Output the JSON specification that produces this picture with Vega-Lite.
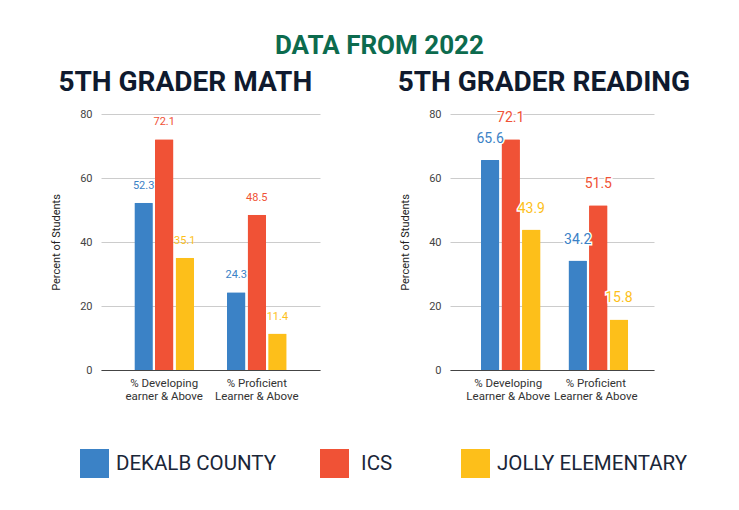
{
  "$schema": "https://vega.github.io/schema/vega-lite/v6.json",
  "background": "white",
  "padding": {"left": 50, "top": 33, "right": 5, "bottom": 5},
  "title": {"text": "DATA FROM 2022", "font": "Roboto", "fontSize": 26, "fontWeight": "bold", "color": "#0c6b4e", "anchor": "middle", "offset": 10, "dx": 9},
  "datasets": {
    "math": [
      {"measure": "% Developing|earner & Above", "school": "DEKALB COUNTY", "value": 52.3},
      {"measure": "% Developing|earner & Above", "school": "ICS", "value": 72.1},
      {"measure": "% Developing|earner & Above", "school": "JOLLY ELEMENTARY", "value": 35.1},
      {"measure": "% Proficient|Learner & Above", "school": "DEKALB COUNTY", "value": 24.3},
      {"measure": "% Proficient|Learner & Above", "school": "ICS", "value": 48.5},
      {"measure": "% Proficient|Learner & Above", "school": "JOLLY ELEMENTARY", "value": 11.4}
    ],
    "reading": [
      {"measure": "% Developing|Learner & Above", "school": "DEKALB COUNTY", "value": 65.6},
      {"measure": "% Developing|Learner & Above", "school": "ICS", "value": 72.1},
      {"measure": "% Developing|Learner & Above", "school": "JOLLY ELEMENTARY", "value": 43.9},
      {"measure": "% Proficient|Learner & Above", "school": "DEKALB COUNTY", "value": 34.2},
      {"measure": "% Proficient|Learner & Above", "school": "ICS", "value": 51.5},
      {"measure": "% Proficient|Learner & Above", "school": "JOLLY ELEMENTARY", "value": 15.8}
    ]
  },
  "spacing": 77,
  "hconcat": [
    {
      "data": {"name": "math"},
      "title": {"text": "5TH GRADER MATH"},
      "width": 219,
      "height": 256,
      "encoding": {
        "x": {"field": "measure", "type": "nominal", "sort": null, "scale": {"paddingInner": 0.355, "paddingOuter": 0.36}, "axis": {"title": null, "labelAngle": 0, "labelExpr": "split(datum.label, '|')"}},
        "xOffset": {"field": "school", "type": "nominal", "sort": null, "scale": {"paddingInner": 0.1}},
        "y": {"field": "value", "type": "quantitative", "scale": {"domain": [0, 80]}, "axis": {"title": "Percent of Students", "values": [0, 20, 40, 60, 80]}},
        "color": {"field": "school", "type": "nominal", "scale": {"domain": ["DEKALB COUNTY", "ICS", "JOLLY ELEMENTARY"], "range": ["#3b82c6", "#f05236", "#fdbf1a"]}, "legend": {"labelExpr": "datum.label == 'ICS' ? '\u200b ICS     \u200b' : datum.label"}}
      },
      "layer": [
        {"mark": {"type": "bar"}},
        {"mark": {"type": "text", "baseline": "middle", "dy": -17, "fontSize": 11, "font": "Roboto"}, "encoding": {"text": {"field": "value", "type": "quantitative", "format": ".1f"}}}
      ]
    },
    {
      "data": {"name": "reading"},
      "title": {"text": "5TH GRADER READING", "anchor": "start", "dx": -2},
      "width": 204,
      "height": 256,
      "encoding": {
        "x": {"field": "measure", "type": "nominal", "sort": null, "scale": {"paddingInner": 0.375, "paddingOuter": 0.352}, "axis": {"title": null, "labelAngle": 0, "labelExpr": "split(datum.label, '|')"}},
        "xOffset": {"field": "school", "type": "nominal", "sort": null, "scale": {"paddingInner": 0.1}},
        "y": {"field": "value", "type": "quantitative", "scale": {"domain": [0, 80]}, "axis": {"title": "Percent of Students", "values": [0, 20, 40, 60, 80]}},
        "color": {"field": "school", "type": "nominal", "legend": {"labelExpr": "datum.label == 'ICS' ? '\u200b ICS     \u200b' : datum.label"}}
      },
      "layer": [
        {"mark": {"type": "bar"}},
        {"mark": {"type": "text", "baseline": "middle", "dy": -21, "fontSize": 14, "font": "Roboto", "stroke": "white", "strokeWidth": 3}, "encoding": {"text": {"field": "value", "type": "quantitative", "format": ".1f"}, "color": {"value": "white"}}},
        {"mark": {"type": "text", "baseline": "middle", "dy": -21, "fontSize": 14, "font": "Roboto"}, "encoding": {"text": {"field": "value", "type": "quantitative", "format": ".1f"}}}
      ]
    }
  ],
  "resolve": {"scale": {"color": "shared"}},
  "config": {
    "view": {"stroke": null},
    "bar": {"cornerRadiusTopLeft": 1, "cornerRadiusTopRight": 1},
    "title": {"font": "Roboto", "fontSize": 28, "fontWeight": "bold", "color": "#0f1a2e", "anchor": "middle", "frame": "bounds", "offset": 11},
    "axis": {"labelFont": "Roboto", "titleFont": "Roboto", "labelFontSize": 11, "labelColor": "#444444", "titleFontSize": 11, "titleFontWeight": "normal", "titleColor": "#222222", "ticks": false, "gridColor": "#cccccc", "gridWidth": 1},
    "axisY": {"domain": false, "labelPadding": 9, "titlePadding": 18},
    "axisX": {"domain": true, "domainColor": "#444444", "domainWidth": 1.2, "labelPadding": 7, "labelColor": "#333333", "labelFontSize": 11.5, "labelLineHeight": 13},
    "legend": {"orient": "none", "legendX": -21, "legendY": 335, "direction": "horizontal", "title": null, "symbolType": "square", "symbolSize": 841, "symbolStrokeWidth": 0, "symbolOpacity": 1, "labelFont": "Roboto", "labelFontSize": 20.5, "labelColor": "#1a2638", "labelOffset": 7, "labelLimit": 400, "columnPadding": 43}
  }
}
